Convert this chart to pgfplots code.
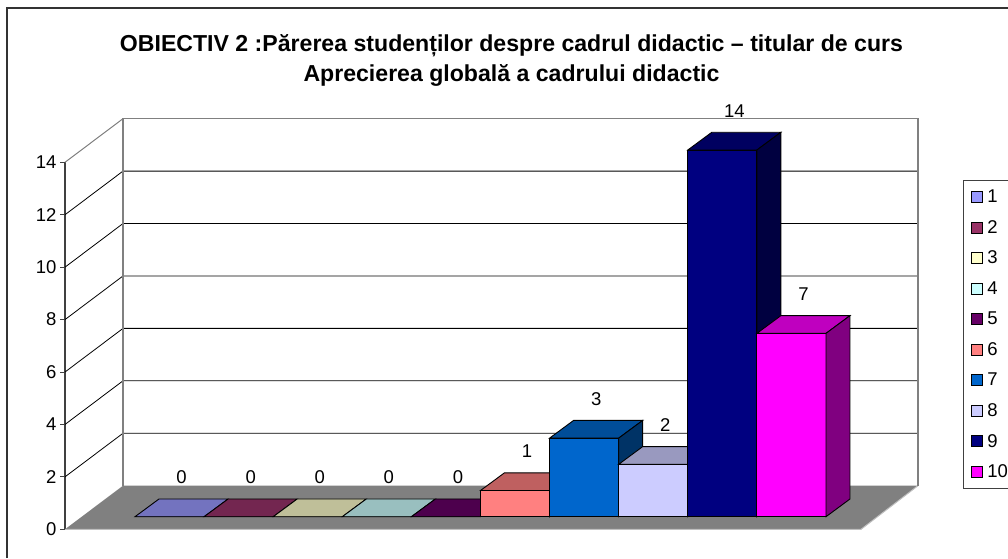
\documentclass[border=0pt]{standalone}
\usepackage{fontspec}
\setmainfont{Liberation Sans}
\usepackage{pgfplots}
\pgfplotsset{compat=1.18}

\definecolor{wallgray}{HTML}{808080}
% front / top / side of each bar
\definecolor{f1}{HTML}{9999FF}\definecolor{t1}{HTML}{7373BF}
\definecolor{f2}{HTML}{993366}\definecolor{t2}{HTML}{732650}
\definecolor{f3}{HTML}{FFFFCC}\definecolor{t3}{HTML}{BFBF99}
\definecolor{f4}{HTML}{CCFFFF}\definecolor{t4}{HTML}{99BFBF}
\definecolor{f5}{HTML}{660066}\definecolor{t5}{HTML}{4D004D}
\definecolor{f6}{HTML}{FF8080}\definecolor{t6}{HTML}{BF6060}\definecolor{s6}{HTML}{804040}
\definecolor{f7}{HTML}{0066CC}\definecolor{t7}{HTML}{004D99}\definecolor{s7}{HTML}{003366}
\definecolor{f8}{HTML}{CCCCFF}\definecolor{t8}{HTML}{9999BF}\definecolor{s8}{HTML}{666680}
\definecolor{f9}{HTML}{000080}\definecolor{t9}{HTML}{000060}\definecolor{s9}{HTML}{000040}
\definecolor{f10}{HTML}{FF00FF}\definecolor{t10}{HTML}{BF00BF}\definecolor{s10}{HTML}{800080}

\begin{document}
\begin{tikzpicture}[x=1pt,y=1pt]
\path[use as bounding box] (0,0) rectangle (1008,558);

% walls, floor, y axis: box is the front plane of the chart
\begin{axis}[
    name=back,
    at={(65pt,28.7pt)}, anchor=south west,
    scale only axis, width=796pt, height=367pt,
    xmin=0, xmax=796, ymin=0, ymax=14,
    clip=false,
    axis x line=none,
    axis y line=left,
    axis line style={-, draw=black!75, line width=1.2pt},
    ytick={0,2,...,14},
    tick align=outside,
    major tick length=5pt,
    tick style={black!75, line width=0.8pt},
    yticklabel style={font=\fontsize{18.5}{20}\selectfont, /pgf/number format/assume math mode=true},
]
% floor
\addplot[fill=wallgray, draw=none] coordinates {(0,0) (58,1.664) (853,1.664) (796,0)} --cycle;
\addplot[black!25, line width=1pt] coordinates {(0,0) (796,0) (853,1.664)};
% grid lines on side and back wall
\addplot[black, line width=0.8pt] coordinates {(0,2) (58,3.664) (853,3.664)};
\addplot[black, line width=0.8pt] coordinates {(0,4) (58,5.664) (853,5.664)};
\addplot[black, line width=0.8pt] coordinates {(0,6) (58,7.664) (853,7.664)};
\addplot[black, line width=0.8pt] coordinates {(0,8) (58,9.664) (853,9.664)};
\addplot[black, line width=0.8pt] coordinates {(0,10) (58,11.664) (853,11.664)};
\addplot[black, line width=0.8pt] coordinates {(0,12) (58,13.664) (853,13.664)};
% wall edges
\addplot[wallgray, line width=1.4pt] coordinates {(58,1.664) (58,15.664) (853,15.664) (853,1.664)};
\addplot[wallgray, line width=1pt] coordinates {(0,14) (58,15.664)};
\end{axis}

\node[align=center, font=\fontsize{23.1}{30}\selectfont\bfseries] at (511.5,498)
  {OBIECTIV 2 :Părerea studenților despre cadrul didactic – titular de curs\\
   Aprecierea globală a cadrului didactic};

% bars: box is the plane of the bar fronts
\begin{axis}[
    at={(135pt,41.3pt)}, anchor=south west,
    scale only axis, width=691pt, height=366.7pt,
    xmin=0.5, xmax=10.5, ymin=0, ymax=14,
    clip=false,
    hide axis,
    legend style={at={(1.1983,0.918)}, anchor=north west, draw=black!75, line width=0.8pt,
        font=\fontsize{18.5}{20}\selectfont, inner xsep=5.5pt, inner ysep=7.5pt,
        row sep=12.2pt},
    legend cell align=left,
    % invisible path at the end pushes the text to the right of the swatch
    legend image code/.code={\draw[#1, draw=black, line width=0.9pt] (3pt,-5.5pt) rectangle (14pt,5.5pt); \path[draw=none, fill=none] (0pt,0pt) -- (16.5pt,0pt);},
]
% 1
\addplot[ybar, bar width=69.1pt, bar shift=0pt, fill=f1, draw=black, line width=0.9pt] coordinates {(1,0)};
\addplot[forget plot, fill=t1, draw=black, line width=0.9pt] coordinates {(0.5,0) (1.5,0) (1.847,0.676) (0.847,0.676)} --cycle;
% 2
\addplot[ybar, bar width=69.1pt, bar shift=0pt, fill=f2, draw=black, line width=0.9pt] coordinates {(2,0)};
\addplot[forget plot, fill=t2, draw=black, line width=0.9pt] coordinates {(1.5,0) (2.5,0) (2.847,0.676) (1.847,0.676)} --cycle;
% 3
\addplot[ybar, bar width=69.1pt, bar shift=0pt, fill=f3, draw=black, line width=0.9pt] coordinates {(3,0)};
\addplot[forget plot, fill=t3, draw=black, line width=0.9pt] coordinates {(2.5,0) (3.5,0) (3.847,0.676) (2.847,0.676)} --cycle;
% 4
\addplot[ybar, bar width=69.1pt, bar shift=0pt, fill=f4, draw=black, line width=0.9pt] coordinates {(4,0)};
\addplot[forget plot, fill=t4, draw=black, line width=0.9pt] coordinates {(3.5,0) (4.5,0) (4.847,0.676) (3.847,0.676)} --cycle;
% 5
\addplot[ybar, bar width=69.1pt, bar shift=0pt, fill=f5, draw=black, line width=0.9pt] coordinates {(5,0)};
\addplot[forget plot, fill=t5, draw=black, line width=0.9pt] coordinates {(4.5,0) (5.5,0) (5.847,0.676) (4.847,0.676)} --cycle;
% 6
\addplot[ybar, bar width=69.1pt, bar shift=0pt, fill=f6, draw=black, line width=0.9pt] coordinates {(6,1)};
\addplot[forget plot, fill=t6, draw=black, line width=0.9pt] coordinates {(5.5,1) (6.5,1) (6.847,1.676) (5.847,1.676)} --cycle;
\addplot[forget plot, fill=s6, draw=black, line width=0.9pt] coordinates {(6.5,0) (6.847,0.676) (6.847,1.676) (6.5,1)} --cycle;
% 7
\addplot[ybar, bar width=69.1pt, bar shift=0pt, fill=f7, draw=black, line width=0.9pt] coordinates {(7,3)};
\addplot[forget plot, fill=t7, draw=black, line width=0.9pt] coordinates {(6.5,3) (7.5,3) (7.847,3.676) (6.847,3.676)} --cycle;
\addplot[forget plot, fill=s7, draw=black, line width=0.9pt] coordinates {(7.5,0) (7.847,0.676) (7.847,3.676) (7.5,3)} --cycle;
% 8
\addplot[ybar, bar width=69.1pt, bar shift=0pt, fill=f8, draw=black, line width=0.9pt] coordinates {(8,2)};
\addplot[forget plot, fill=t8, draw=black, line width=0.9pt] coordinates {(7.5,2) (8.5,2) (8.847,2.676) (7.847,2.676)} --cycle;
\addplot[forget plot, fill=s8, draw=black, line width=0.9pt] coordinates {(8.5,0) (8.847,0.676) (8.847,2.676) (8.5,2)} --cycle;
% 9
\addplot[ybar, bar width=69.1pt, bar shift=0pt, fill=f9, draw=black, line width=0.9pt] coordinates {(9,14)};
\addplot[forget plot, fill=t9, draw=black, line width=0.9pt] coordinates {(8.5,14) (9.5,14) (9.847,14.676) (8.847,14.676)} --cycle;
\addplot[forget plot, fill=s9, draw=black, line width=0.9pt] coordinates {(9.5,0) (9.847,0.676) (9.847,14.676) (9.5,14)} --cycle;
% 10
\addplot[ybar, bar width=69.1pt, bar shift=0pt, fill=f10, draw=black, line width=0.9pt] coordinates {(10,7)};
\addplot[forget plot, fill=t10, draw=black, line width=0.9pt] coordinates {(9.5,7) (10.5,7) (10.847,7.676) (9.847,7.676)} --cycle;
\addplot[forget plot, fill=s10, draw=black, line width=0.9pt] coordinates {(10.5,0) (10.847,0.676) (10.847,7.676) (10.5,7)} --cycle;
% value labels above the back edge of each top face
\addplot[forget plot, draw=none, point meta=explicit,
    nodes near coords={\pgfmathprintnumber{\pgfplotspointmeta}},
    nodes near coords style={anchor=south, inner sep=0pt, yshift=14.7pt, black,
        font=\fontsize{18.5}{20}\selectfont, /pgf/number format/assume math mode=true}]
  coordinates {(1.174,0.676)[0] (2.174,0.676)[0] (3.174,0.676)[0] (4.174,0.676)[0] (5.174,0.676)[0]
               (6.174,1.676)[1] (7.174,3.676)[3] (8.174,2.676)[2] (9.174,14.676)[14] (10.174,7.676)[7]};
\legend{1,2,3,4,5,6,7,8,9,10}
\end{axis}

% chart frame runs off the right and bottom of the picture
\draw[black!80, line width=1.6pt] (7,0) -- (7,550) -- (1008,550);
\end{tikzpicture}
\end{document}
